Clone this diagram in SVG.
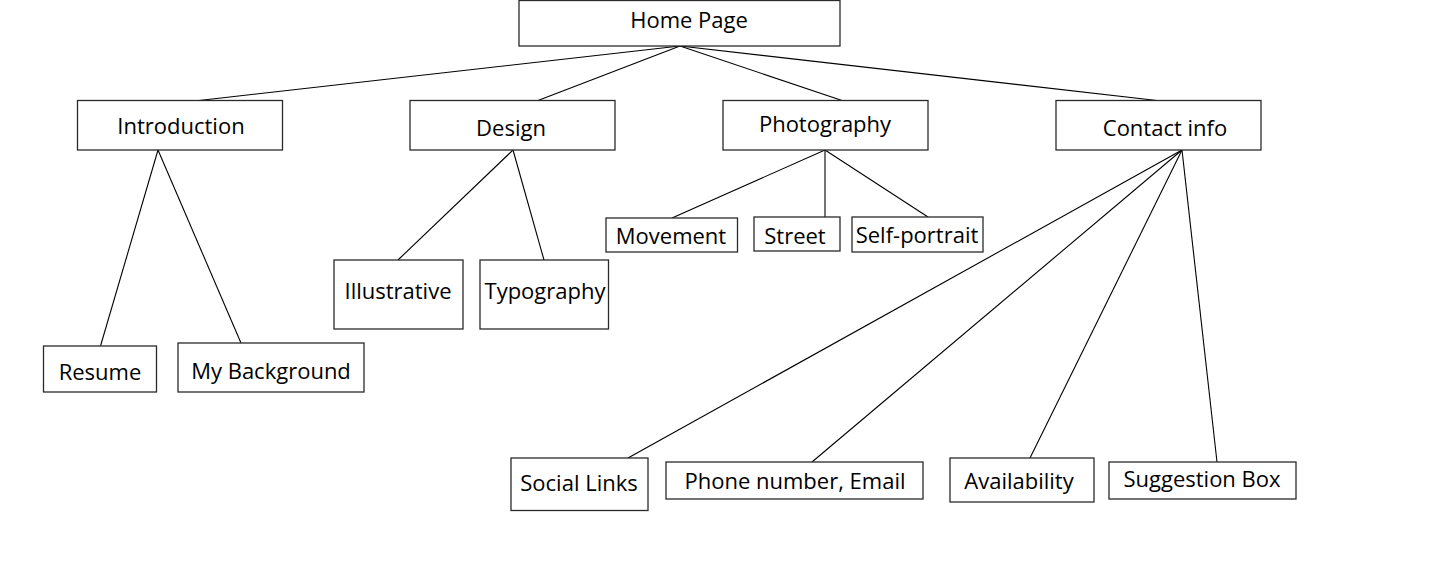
<svg xmlns="http://www.w3.org/2000/svg" width="1436" height="579" viewBox="0 0 1436 579">
  <style>
    .box { fill: #ffffff; stroke: #2a2a2a; stroke-width: 1.3; }
    .lbl { font-family: "Open Sans", "Liberation Sans", sans-serif; font-size: 22px; fill: #000000; text-anchor: middle; }
    .link { stroke: #000000; stroke-width: 1.1; fill: none; }
  </style>
  <rect width="1436" height="579" fill="#ffffff"/>

  <!-- tree links -->
  <g id="connectors">
    <line class="link" x1="680" y1="46" x2="199" y2="100.5"/>
    <line class="link" x1="680" y1="46" x2="538" y2="100.5"/>
    <line class="link" x1="680" y1="46" x2="842" y2="100.5"/>
    <line class="link" x1="680" y1="46" x2="1157" y2="100.5"/>

    <line class="link" x1="158" y1="150" x2="100.5" y2="346"/>
    <line class="link" x1="158" y1="150" x2="241" y2="343"/>

    <line class="link" x1="513" y1="150" x2="398" y2="260"/>
    <line class="link" x1="513" y1="150" x2="544" y2="260"/>

    <line class="link" x1="825" y1="150" x2="672" y2="218"/>
    <line class="link" x1="825" y1="150" x2="825" y2="217"/>
    <line class="link" x1="825" y1="150" x2="928" y2="217"/>

    <line class="link" x1="1182" y1="150" x2="628" y2="458"/>
    <line class="link" x1="1182" y1="150" x2="812" y2="462"/>
    <line class="link" x1="1182" y1="150" x2="1030" y2="458"/>
    <line class="link" x1="1182" y1="150" x2="1217" y2="462"/>
  </g>

  <g id="home">
    <rect class="box" x="519" y="0.5" width="321" height="45.5"/>
    <text class="lbl" x="689" y="28">Home Page</text>
  </g>

  <g id="introduction">
    <rect class="box" x="77.5" y="100.5" width="205" height="49.5"/>
    <text class="lbl" x="181" y="134">Introduction</text>
  </g>
  <g id="design">
    <rect class="box" x="410" y="100.5" width="205" height="49.5"/>
    <text class="lbl" x="511" y="136">Design</text>
  </g>
  <g id="photography">
    <rect class="box" x="723" y="100.5" width="205" height="49.5"/>
    <text class="lbl" x="825" y="132">Photography</text>
  </g>
  <g id="contact">
    <rect class="box" x="1056" y="100.5" width="205" height="49.5"/>
    <text class="lbl" x="1165" y="136">Contact info</text>
  </g>

  <g id="resume">
    <rect class="box" x="43.5" y="346" width="113" height="46"/>
    <text class="lbl" x="100" y="380">Resume</text>
  </g>
  <g id="background">
    <rect class="box" x="178" y="343" width="186" height="49"/>
    <text class="lbl" x="271" y="379">My Background</text>
  </g>

  <g id="illustrative">
    <rect class="box" x="334" y="260" width="129" height="69"/>
    <text class="lbl" x="398" y="299">Illustrative</text>
  </g>
  <g id="typography">
    <rect class="box" x="480" y="260" width="128.5" height="69"/>
    <text class="lbl" x="545" y="299">Typography</text>
  </g>

  <g id="movement">
    <rect class="box" x="606" y="218" width="131.5" height="34"/>
    <text class="lbl" x="671" y="244">Movement</text>
  </g>
  <g id="street">
    <rect class="box" x="754" y="217" width="86" height="34"/>
    <text class="lbl" x="795" y="244">Street</text>
  </g>
  <g id="selfportrait">
    <rect class="box" x="852" y="217" width="131" height="35"/>
    <text class="lbl" x="917" y="243">Self-portrait</text>
  </g>

  <g id="social">
    <rect class="box" x="511" y="458" width="137" height="52.5"/>
    <text class="lbl" x="579" y="491">Social Links</text>
  </g>
  <g id="phone">
    <rect class="box" x="666" y="462" width="257" height="37"/>
    <text class="lbl" x="795" y="489">Phone number, Email</text>
  </g>
  <g id="availability">
    <rect class="box" x="950" y="458" width="144" height="44"/>
    <text class="lbl" x="1019" y="489">Availability</text>
  </g>
  <g id="suggestion">
    <rect class="box" x="1109" y="462" width="187" height="37"/>
    <text class="lbl" x="1202" y="487">Suggestion Box</text>
  </g>
</svg>
